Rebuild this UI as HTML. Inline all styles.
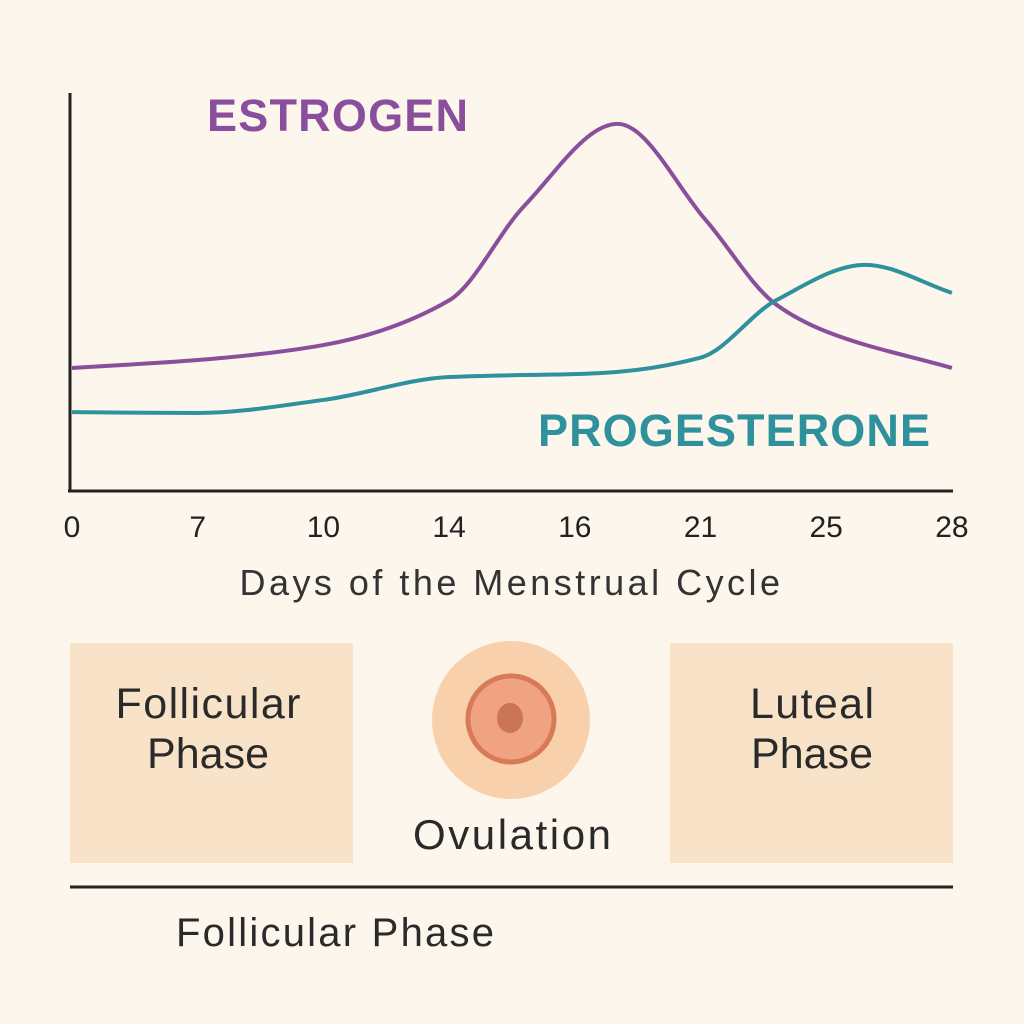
<!DOCTYPE html>
<html><head><meta charset="utf-8"><style>
html,body{margin:0;padding:0;background:#fcf6ec;}
svg{display:block;font-family:"Liberation Sans","DejaVu Sans",sans-serif;}
</style></head><body>
<svg id="chart" width="1024" height="1024" viewBox="0 0 1024 1024">
<rect width="1024" height="1024" fill="#fcf6ec"/>
<g id="plot"></g>
<line x1="70" y1="93" x2="70" y2="492" stroke="#222" stroke-width="3"/>
<line x1="68" y1="491" x2="953" y2="491" stroke="#222" stroke-width="3"/>
<g id="ticks"></g>
<text x="511" y="595" font-size="36" fill="#333" text-anchor="middle" letter-spacing="2.5" textLength="543">Days of the Menstrual Cycle</text>
<text x="207" y="131" font-size="45" font-weight="bold" fill="#8a4f9c" textLength="261">ESTROGEN</text>
<text x="538" y="446" font-size="45" font-weight="bold" fill="#2f919c" textLength="392">PROGESTERONE</text>
<rect x="70" y="643" width="283" height="220" fill="#f8e3c9"/>
<text x="208" y="718" font-size="43" fill="#2a2a2a" text-anchor="middle" textLength="185">Follicular</text>
<text x="208" y="768" font-size="43" fill="#2a2a2a" text-anchor="middle" textLength="122">Phase</text>
<rect x="670" y="643" width="283" height="220" fill="#f8e3c9"/>
<text x="812" y="718" font-size="43" fill="#2a2a2a" text-anchor="middle" textLength="124">Luteal</text>
<text x="812" y="768" font-size="43" fill="#2a2a2a" text-anchor="middle" textLength="122">Phase</text>
<g>
<circle cx="511" cy="720" r="79" fill="#f9d0ac"/>
<circle cx="511" cy="719" r="43" fill="#f0a382" stroke="#d87a58" stroke-width="5"/>
<ellipse cx="510" cy="718" rx="13" ry="15" fill="#c97556"/>
</g>
<text x="512" y="849" font-size="42" fill="#2a2a2a" text-anchor="middle" textLength="198">Ovulation</text>
<line x1="70" y1="887" x2="953" y2="887" stroke="#222" stroke-width="3"/>
<text x="335" y="946" font-size="40" fill="#2a2a2a" text-anchor="middle" textLength="318">Follicular Phase</text>
</svg>
<script>
const tickLabels=["0","7","10","14","16","21","25","28"];
const estrogenX=[0,1,2,3,3.6,4.34,5.04,5.6,6.01,7];
const estrogenY=[30.9,32.9,36.7,48,72,92.7,68.4,47,40,30.9];
const progX=[0,1,2,3,4.2,5,5.6,6.31,7];
const progY=[19.7,19.5,22.8,28.6,29.6,33.5,48,57,49.9];
const NS="http://www.w3.org/2000/svg";
function xs(i){return 72+i*125.7;}
function ys(v){return 490-v*3.95;}
function path(X,Y){
  const px=X.map(xs), py=Y.map(ys), n=px.length;
  const d=[],m=[];
  for(let i=0;i<n-1;i++) d.push((py[i+1]-py[i])/(px[i+1]-px[i]));
  m[0]=d[0]; m[n-1]=d[n-2];
  for(let i=1;i<n-1;i++){
    if(d[i-1]*d[i]<=0) m[i]=0;
    else {const w1=2*(px[i+1]-px[i])+(px[i]-px[i-1]),w2=(px[i+1]-px[i])+2*(px[i]-px[i-1]);m[i]=(w1+w2)/(w1/d[i-1]+w2/d[i]);}
  }
  let s="M"+px[0]+","+py[0];
  for(let i=0;i<n-1;i++){
    const h=(px[i+1]-px[i])/3;
    s+=" C"+(px[i]+h)+","+(py[i]+m[i]*h)+" "+(px[i+1]-h)+","+(py[i+1]-m[i+1]*h)+" "+px[i+1]+","+py[i+1];
  }
  return s;
}
const plot=document.getElementById("plot");
const e=document.createElementNS(NS,"path");
e.setAttribute("d",path(estrogenX,estrogenY));e.setAttribute("fill","none");e.setAttribute("stroke","#8a4f9c");e.setAttribute("stroke-width","4");


plot.appendChild(e);
const p=document.createElementNS(NS,"path");
p.setAttribute("d",path(progX,progY));p.setAttribute("fill","none");p.setAttribute("stroke","#2f919c");p.setAttribute("stroke-width","4");


plot.appendChild(p);
const tg=document.getElementById("ticks");
tickLabels.forEach((t,i)=>{
  const tx=document.createElementNS(NS,"text");
  tx.setAttribute("x",xs(i));tx.setAttribute("y",537);tx.setAttribute("font-size","30");tx.setAttribute("fill","#222");tx.setAttribute("text-anchor","middle");
  tx.textContent=t;
  
  
  tg.appendChild(tx);
});
</script>
</body></html>
